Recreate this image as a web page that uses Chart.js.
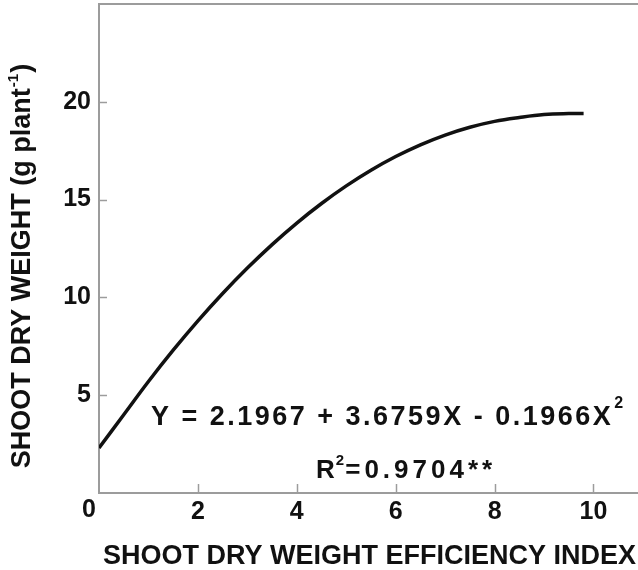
<!DOCTYPE html>
<html>
<head>
<meta charset="utf-8">
<script src="https://cdn.jsdelivr.net/npm/chart.js@4/dist/chart.umd.min.js"></script>
<style>
  html, body { margin: 0; padding: 0; background: #fff; }
  #wrap { width: 638px; height: 570px; }
</style>
</head>
<body>
<div id="wrap"><canvas id="chart" width="638" height="570"></canvas></div>
<script>
// values
const efficiencyIndex = [0, 0.5, 1, 1.5, 2, 2.5, 3, 3.5, 4, 4.5, 5, 5.5, 6, 6.5, 7, 7.5, 8, 8.5, 9, 9.5, 9.8];
const shootDryWeight = [2.3, 4.0, 5.7, 7.3, 8.8, 10.2, 11.5, 12.7, 13.8, 14.8, 15.7, 16.5, 17.2, 17.8, 18.3, 18.7, 19.0, 19.2, 19.35, 19.4, 19.4];

const xTicks = [2, 4, 6, 8, 10];
const yTicks = [5, 10, 15, 20];
const originLabel = '0';

const xTitle = 'SHOOT DRY WEIGHT EFFICIENCY INDEX';
const yTitle = 'SHOOT DRY WEIGHT (g plant';
const yTitleSup = '-1';
const equation = 'Y = 2.1967 + 3.6759X - 0.1966X';
const equationSup = '2';
const rSquared = 'R';
const rSquaredSup = '2';
const rSquaredRest = '=0.9704**';

const FONT = "'Liberation Sans', Arial, Helvetica, sans-serif";
const AXIS_GREY = '#9c9c9c';
const INK = '#111';

// inside tick marks, top frame line and all the free text
const decorations = {
  id: 'decorations',
  afterDraw(chart) {
    const { ctx, chartArea, scales: { x, y } } = chart;
    ctx.save();

    ctx.strokeStyle = AXIS_GREY;
    ctx.lineWidth = 2;
    ctx.beginPath();
    ctx.moveTo(chartArea.left - 1, chartArea.top);
    ctx.lineTo(chart.width, chartArea.top);
    ctx.stroke();

    ctx.lineWidth = 1.5;
    xTicks.forEach(v => {
      const px = Math.round(x.getPixelForValue(v)) + 0.5;
      ctx.beginPath();
      ctx.moveTo(px, chartArea.bottom);
      ctx.lineTo(px, chartArea.bottom - 9);
      ctx.stroke();
    });
    yTicks.forEach(v => {
      const py = Math.round(y.getPixelForValue(v)) + 0.5;
      ctx.beginPath();
      ctx.moveTo(chartArea.left, py);
      ctx.lineTo(chartArea.left + 8, py);
      ctx.stroke();
    });

    ctx.fillStyle = INK;
    ctx.textBaseline = 'alphabetic';

    // origin label sits just left of the corner
    ctx.font = 'bold 25px ' + FONT;
    ctx.textAlign = 'center';
    ctx.fillText(originLabel, chartArea.left - 10, chartArea.bottom + 24);

    // x title
    ctx.font = 'bold 27px ' + FONT;
    ctx.fillText(xTitle, (chartArea.left + chart.width) / 2 + 1, chart.height - 6);

    // y title, rotated, with superscript
    ctx.textAlign = 'left';
    ctx.save();
    ctx.translate(30, 266);
    ctx.rotate(-Math.PI / 2);
    ctx.font = 'bold 27px ' + FONT;
    const w1 = ctx.measureText(yTitle).width;
    ctx.font = 'bold 15px ' + FONT;
    const w2 = ctx.measureText(yTitleSup).width;
    ctx.font = 'bold 27px ' + FONT;
    const w3 = ctx.measureText(')').width;
    let sx = -(w1 + w2 + w3 + 2) / 2;
    ctx.fillText(yTitle, sx, 0);
    sx += w1 + 1;
    ctx.font = 'bold 15px ' + FONT;
    ctx.fillText(yTitleSup, sx, -12);
    sx += w2 + 1;
    ctx.font = 'bold 27px ' + FONT;
    ctx.fillText(')', sx, 0);
    ctx.restore();

    // regression equation
    ctx.letterSpacing = '2.5px';
    ctx.font = 'bold 27px ' + FONT;
    let ex = x.getPixelForValue(1.05);
    const ey = y.getPixelForValue(3.49);
    ctx.fillText(equation, ex, ey);
    ex += ctx.measureText(equation).width;
    ctx.letterSpacing = '0px';
    ctx.font = 'bold 16px ' + FONT;
    ctx.fillText(equationSup, ex + 1, ey - 17);

    // R squared
    let rx = x.getPixelForValue(4.39);
    const ry = y.getPixelForValue(0.77);
    ctx.font = 'bold 26px ' + FONT;
    ctx.fillText(rSquared, rx, ry);
    rx += ctx.measureText(rSquared).width + 1;
    ctx.font = 'bold 15px ' + FONT;
    ctx.fillText(rSquaredSup, rx, ry - 13);
    rx += ctx.measureText(rSquaredSup).width + 1;
    ctx.letterSpacing = '4px';
    ctx.font = 'bold 26px ' + FONT;
    ctx.fillText(rSquaredRest, rx, ry);

    ctx.restore();
  }
};

const tickFont = { family: FONT, size: 25, weight: 'bold' };

new Chart(document.getElementById('chart'), {
  type: 'line',
  data: {
    datasets: [{
      data: efficiencyIndex.map((v, i) => ({ x: v, y: shootDryWeight[i] })),
      borderColor: INK,
      borderWidth: 3.5,
      pointRadius: 0,
      tension: 0.4,
      fill: false,
    }],
  },
  options: {
    responsive: false,
    animation: false,
    devicePixelRatio: 1,
    layout: { padding: { top: 4, right: 0, left: 0, bottom: 0 } },
    plugins: { legend: { display: false }, tooltip: { enabled: false } },
    scales: {
      x: {
        type: 'linear',
        min: 0,
        max: 10.9,
        afterBuildTicks: s => { s.ticks = xTicks.map(v => ({ value: v })); },
        afterFit: s => { s.height = 77; s.paddingLeft = 0; s.paddingRight = 0; },
        grid: { display: false, drawTicks: false },
        border: { color: AXIS_GREY, width: 2 },
        ticks: { font: tickFont, color: INK, padding: 4, maxRotation: 0, autoSkip: false },
      },
      y: {
        min: 0,
        max: 25,
        afterBuildTicks: s => { s.ticks = yTicks.map(v => ({ value: v })); },
        afterFit: s => { s.width = 99; s.paddingTop = 0; s.paddingBottom = 0; },
        grid: { display: false, drawTicks: false },
        border: { color: AXIS_GREY, width: 2 },
        ticks: { font: tickFont, color: INK, padding: 8, autoSkip: false },
      },
    },
  },
  plugins: [decorations],
});
</script>
</body>
</html>
